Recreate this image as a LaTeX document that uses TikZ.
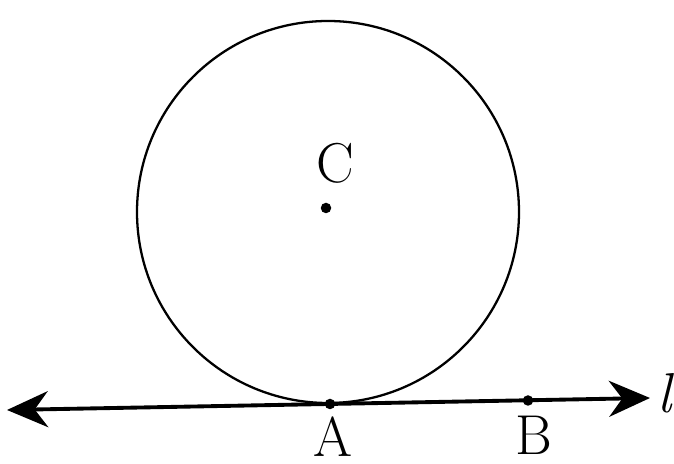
\documentclass[tikz,border=0pt]{standalone}
\usepackage{tikz}
\usetikzlibrary{arrows.meta,positioning}
\tikzset{
  lbl/.style={font=\fontsize{32}{36}\selectfont, inner sep=0pt},
  pt/.style={circle, fill=black, inner sep=0pt, minimum size=0.21cm}
}
\begin{document}
\begin{tikzpicture}
  \useasboundingbox (0,0) rectangle (13.48,9.28);
  % The circle with centre C
  \draw[line width=1.3pt] (6.56,5.04) circle (3.82);
  \node[pt] (C) at (6.52,5.12) {};
  \node[lbl] (Clab) at (6.7,6.02) {C};

  % Line l, tangent at A
  \coordinate (lend) at (0.14,1.08);
  \coordinate (rend) at (13.0,1.32);
  \draw[line width=2.2pt, {Stealth[length=0.82cm,width=0.72cm]}-{Stealth[length=0.82cm,width=0.72cm]}]
    (lend) -- (rend);
  \node[lbl, font=\fontsize{32}{36}\selectfont\itshape] (llab) at (13.3,1.42) {l};

  % Points on l
  \node[pt] (A) at (6.6,1.2) {};
  \node[pt] (B) at (10.56,1.27) {};
  \node[lbl] (Alab) at (6.66,0.55) {A};
  \node[lbl] (Blab) at (10.68,0.58) {B};
\end{tikzpicture}
\end{document}
